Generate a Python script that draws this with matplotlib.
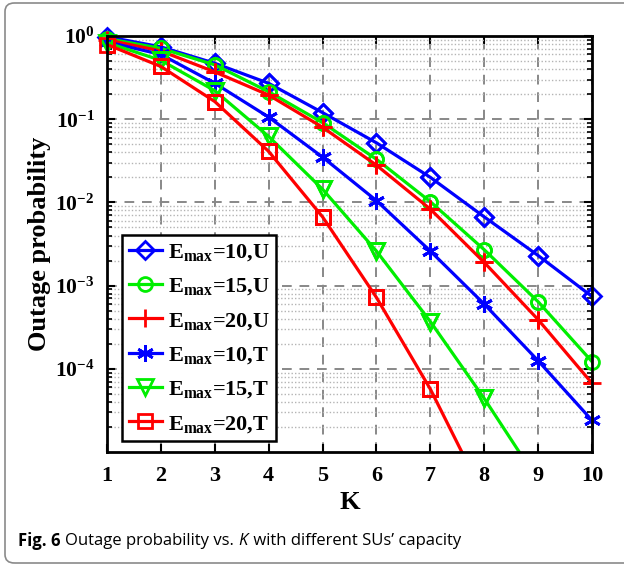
import numpy as np
import matplotlib
matplotlib.use("Agg")
import matplotlib.pyplot as plt
from matplotlib.patches import FancyBboxPatch
from matplotlib.ticker import LogLocator, NullFormatter

plt.rcParams['font.family'] = ['Liberation Serif', 'DejaVu Serif']
plt.rcParams['mathtext.fontset'] = 'custom'
plt.rcParams['mathtext.rm'] = 'Liberation Serif:bold'
plt.rcParams['mathtext.bf'] = 'Liberation Serif:bold'
plt.rcParams['mathtext.it'] = 'Liberation Serif:bold'

# number of SUs
K = [1, 2, 3, 4, 5, 6, 7, 8, 9, 10]

# outage probability, uniform (U) and threshold (T) schemes
e10_u = [0.98, 0.74, 0.47, 0.27, 0.12, 0.052, 0.020, 0.0067, 0.0023, 7.4e-4]
e15_u = [0.93, 0.71, 0.45, 0.214, 0.091, 0.033, 0.0102, 0.0027, 6.4e-4, 1.22e-4]
e20_u = [0.90, 0.66, 0.37, 0.195, 0.080, 0.028, 0.0083, 0.0019, 3.9e-4, 6.7e-5]
e10_t = [0.85, 0.60, 0.27, 0.106, 0.035, 0.0105, 0.0026, 6.0e-4, 1.25e-4, 2.4e-5]
e15_t = [0.83, 0.51, 0.22, 0.062, 0.0144, 0.0026, 3.7e-4, 4.4e-5, 4.5e-6]
e20_t = [0.79, 0.43, 0.163, 0.041, 0.0067, 7.2e-4, 5.7e-5, 2.9e-6]

labels = [r'$\mathbf{E_{max}}$=10,U', r'$\mathbf{E_{max}}$=15,U', r'$\mathbf{E_{max}}$=20,U',
          r'$\mathbf{E_{max}}$=10,T', r'$\mathbf{E_{max}}$=15,T', r'$\mathbf{E_{max}}$=20,T']
series = [e10_u, e15_u, e20_u, e10_t, e15_t, e20_t]
colors = ['#0000ff', '#00ee00', '#ff0000', '#0000ff', '#00ee00', '#ff0000']
markers = ['D', 'o', '+', (6, 2, 0), 'v', 's']
msizes = [9, 10, 13, 12, 11, 10]

fig = plt.figure(figsize=(6.24, 5.68), dpi=100)

# rounded frame around the figure
frame = FancyBboxPatch((5 / 624, 5 / 568), 640 / 624, 560 / 568,
                       boxstyle="round,pad=0,rounding_size=0.015",
                       transform=fig.transFigure, fill=False,
                       edgecolor='#8a8a8a', linewidth=1.2)
fig.patches.append(frame)

ax = fig.add_axes([107 / 624, 1 - 452 / 568, 485 / 624, 416 / 568])

for vals, lab, c, m, ms in zip(series, labels, colors, markers, msizes):
    kk = np.array(K[:len(vals)])
    vv = np.array(vals)
    ax.plot(kk, vv, color=c, lw=2.3, marker=m, ms=ms, mfc='none',
            mec=c, mew=2.0, label=lab)
    # markers sitting on the top edge are drawn unclipped
    inside = vv >= 1e-5
    ax.plot(kk[inside], vv[inside], ls='none', marker=m, ms=ms, mfc='none',
            mec=c, mew=2.0, clip_on=False)

ax.set_yscale('log')
ax.set_xlim(1, 10)
ax.set_ylim(1e-5, 1)
ax.set_xticks(K)
ax.set_xticklabels([str(k) for k in K], fontweight='bold')
ax.set_yticks([1, 1e-1, 1e-2, 1e-3, 1e-4])
ax.set_yticklabels([r'$\mathbf{10^{0}}$', r'$\mathbf{10^{-1}}$', r'$\mathbf{10^{-2}}$',
                    r'$\mathbf{10^{-3}}$', r'$\mathbf{10^{-4}}$'])
ax.yaxis.set_minor_locator(LogLocator(base=10, subs=np.arange(2, 10), numticks=20))
ax.yaxis.set_minor_formatter(NullFormatter())

ax.tick_params(axis='both', which='both', direction='in', top=True, right=True)
ax.tick_params(axis='both', which='major', length=6, width=1.5, labelsize=16, pad=10)
ax.tick_params(axis='y', which='major', labelsize=15.5, pad=9)
ax.tick_params(axis='y', which='minor', length=3.5, width=1.2)

ax.grid(True, which='major', ls=(0, (5, 4)), color='#888888', lw=1.4)
ax.grid(True, which='minor', axis='y', ls=(0, (1, 1.5)), color='#b4b4b4', lw=1.0)

for sp in ax.spines.values():
    sp.set_linewidth(2.0)

ax.set_xlabel('K', fontsize=19, fontweight='bold', labelpad=4)
ax.set_ylabel('Outage probability', fontsize=19, fontweight='bold')
ax.yaxis.set_label_coords(-0.116, 0.5)

leg = ax.legend(loc='lower left', bbox_to_anchor=(0.031, 0.026), borderaxespad=0,
                prop={'size': 16, 'weight': 'bold'}, handlelength=1.5,
                handletextpad=0.25, labelspacing=0.6, borderpad=0.3,
                fancybox=False, edgecolor='black', framealpha=1)
leg.get_frame().set_linewidth(1.8)

# caption under the chart, written piece by piece
fig.canvas.draw()
renderer = fig.canvas.get_renderer()
parts = [('Fig. 6 ', 'bold', 'normal', 0), ('Outage probability vs. ', 'normal', 'normal', 0),
         ('K', 'normal', 'italic', 0), (' with different SUs\u2019 capacity', 'normal', 'normal', 2)]
x = 18
for txt, wt, st, gap in parts:
    x += gap
    t = fig.text(x / 624, 1 - 541 / 568, txt, fontsize=12, fontweight=wt,
                 fontstyle=st, family='Open Sans', va='center', ha='left')
    bb = t.get_window_extent(renderer)
    x += bb.width

fig.savefig('out.png', dpi=100)
